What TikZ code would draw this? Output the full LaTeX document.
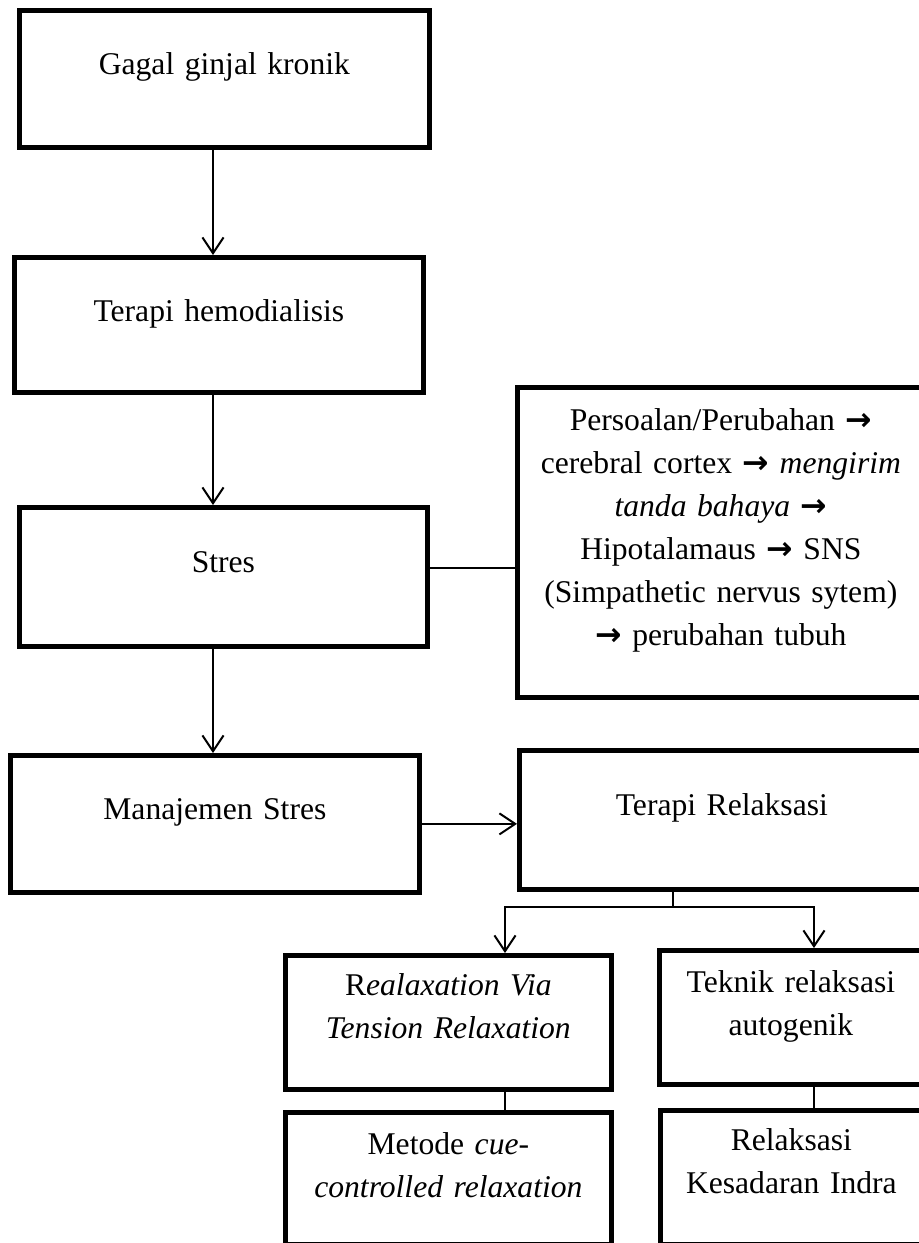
\documentclass[tikz,border=0pt]{standalone}
\usepackage{fontspec}
\setmainfont{Liberation Serif}
\newfontfamily\arahfont{DejaVu Sans}
\usetikzlibrary{arrows.meta}

\newcommand{\pik}{0.3795pt}
\newcommand{\arah}{{\arahfont\bfseries →}}

\tikzset{
	kotak/.style={draw, rectangle, line width=1.8pt, inner sep=0pt, anchor=north west, align=center},
	panah/.style={-{Straight Barb[length=6pt,width=8pt]}, line width=0.75pt},
	garis/.style={line width=0.75pt}
}

\begin{document}
\begin{tikzpicture}[x=\pik, y=-\pik, font=\fontsize{12pt}{16.3pt}\selectfont]
	\useasboundingbox (0,0) rectangle (919,1243);

	\node (gagal) [kotak, text width=410*\pik, text height=64*\pik, text depth=73*\pik] at (17,8) {Gagal ginjal kronik};
	\node (hemo) [kotak, text width=409*\pik, text height=64*\pik, text depth=71*\pik] at (12,255) {Terapi hemodialisis};
	\node (stres) [kotak, text width=408*\pik, text height=65*\pik, text depth=74*\pik] at (17,505) {Stres};
	\node (manajemen) [kotak, text width=409*\pik, text height=64*\pik, text depth=73*\pik] at (8,753) {Manajemen Stres};
	\node (persoalan) [kotak, text width=407*\pik, text height=43*\pik, text depth=267*\pik] at (515,385) {Persoalan/Perubahan \arah\\ cerebral cortex \arah{} \textit{mengirim}\\ \textit{tanda bahaya} \arah\\ Hipotalamaus \arah{} SNS\\ (Simpathetic nervus sytem)\\ \arah{} perubahan tubuh};
	\node (terapirel) [kotak, text width=405*\pik, text height=65*\pik, text depth=74*\pik] at (517,748) {Terapi Relaksasi};
	\node (realaxation) [kotak, text width=326*\pik, text height=40*\pik, text depth=94*\pik] at (283,953) {R\textit{ealaxation Via}\\ \textit{Tension Relaxation}};
	\node (teknik) [kotak, text width=263*\pik, text height=42*\pik, text depth=92*\pik] at (657,948) {Teknik relaksasi\\ autogenik};
	\node (metode) [kotak, text width=326*\pik, text height=42*\pik, text depth=90*\pik] at (283,1110) {Metode \textit{cue-}\\ \textit{controlled relaxation}};
	\node (indra) [kotak, text width=262*\pik, text height=40*\pik, text depth=94*\pik] at (658,1108) {Relaksasi\\ Kesadaran Indra};

	\coordinate (sumbu) at (213,0);
	\coordinate (sambung) at (0,568);
	\coordinate (cabang) at (673,907);
	\coordinate (kolomkiri) at (505,907);
	\coordinate (kolomkanan) at (814,907);

	\draw[panah] (sumbu |- gagal.south) -- (sumbu |- hemo.north);
	\draw[panah] (sumbu |- hemo.south) -- (sumbu |- stres.north);
	\draw[panah] (sumbu |- stres.south) -- (sumbu |- manajemen.north);
	\draw[garis] (stres.east |- sambung) -- (persoalan.west |- sambung);
	\draw[panah] (manajemen.east) -- (manajemen.east -| terapirel.west);

	\draw[garis] (terapirel.south -| cabang) -- (cabang);
	\draw[panah] (cabang) -- (kolomkiri) -- (kolomkiri |- realaxation.north);
	\draw[panah] (cabang) -- (kolomkanan) -- (kolomkanan |- teknik.north);
	\draw[garis] (kolomkiri |- realaxation.south) -- (kolomkiri |- metode.north);
	\draw[garis] (kolomkanan |- teknik.south) -- (kolomkanan |- indra.north);
\end{tikzpicture}
\end{document}
